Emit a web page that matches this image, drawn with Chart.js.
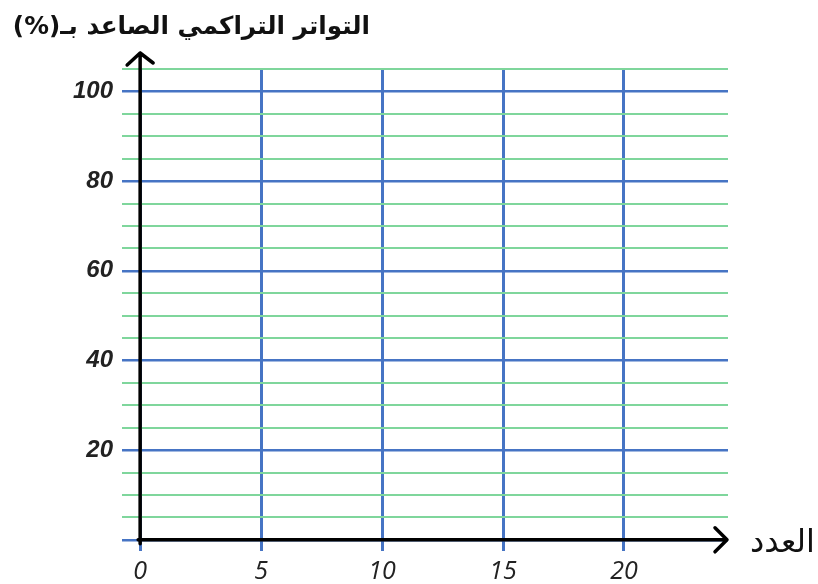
<!DOCTYPE html>
<html lang="ar">
<head>
<meta charset="utf-8">
<title>التواتر التراكمي الصاعد</title>
<script src="https://cdn.jsdelivr.net/npm/chart.js@4.4.1/dist/chart.umd.min.js"></script>
<style>
  html, body { margin: 0; padding: 0; background: #fff; }
  #wrap { width: 818px; height: 584px; }
</style>
</head>
<body>
<div id="wrap"><canvas id="chart" width="818" height="584"></canvas></div>
<script>
// axis texts
const yTitle = 'التواتر التراكمي الصاعد بـ(%)';
const xTitle = 'العدد';

// x ticks (number) and y ticks (cumulative %)
const xTicks = [0, 5, 10, 15, 20];
const xRange = [-0.75, 24.3];
const yTicks = [0, 5, 10, 15, 20, 25, 30, 35, 40, 45, 50, 55, 60, 65, 70, 75, 80, 85, 90, 95, 100, 105];
const yLabelled = [20, 40, 60, 80, 100];
const yRange = [-2.5, 105];

const blue = '#4674c4';
const green = '#7fd69c';

// black axes with arrow heads, drawn on top of the grid
const axesArrows = {
    id: 'axesArrows',
    afterDraw(chart) {
        const ctx = chart.ctx;
        const x = chart.scales.x;
        const y = chart.scales.y;
        const x0 = x.getPixelForValue(0);
        const y0 = y.getPixelForValue(0);
        ctx.save();
        ctx.strokeStyle = '#000';
        ctx.lineWidth = 3.5;
        ctx.lineCap = 'round';
        ctx.lineJoin = 'round';

        // vertical axis
        const topY = 53;
        ctx.beginPath();
        ctx.moveTo(x0, y0 + 4);
        ctx.lineTo(x0, topY);
        ctx.moveTo(x0 - 13, topY + 12);
        ctx.lineTo(x0, topY);
        ctx.lineTo(x0 + 13, topY + 10);
        ctx.stroke();

        // horizontal axis
        const tipX = 727;
        ctx.beginPath();
        ctx.moveTo(x0 - 2, y0);
        ctx.lineTo(tipX, y0);
        ctx.moveTo(tipX - 12, y0 - 12);
        ctx.lineTo(tipX, y0);
        ctx.lineTo(tipX - 12, y0 + 12);
        ctx.stroke();

        // arabic axis titles
        ctx.fillStyle = '#111';
        ctx.direction = 'rtl';
        ctx.textAlign = 'right';
        ctx.textBaseline = 'alphabetic';
        ctx.font = 'bold 24.7px "DejaVu Sans"';
        ctx.fillText(yTitle, 370, 34);
        ctx.font = '32px "DejaVu Sans"';
        ctx.fillText(xTitle, 815, 552);
        ctx.restore();
    }
};

const ctx = document.getElementById('chart').getContext('2d');
new Chart(ctx, {
    type: 'scatter',
    data: { datasets: [{ data: [] }] },
    options: {
        responsive: false,
        animation: false,
        layout: { padding: { top: 69, right: 90, left: 0, bottom: 0 } },
        plugins: { legend: { display: false }, tooltip: { enabled: false } },
        scales: {
            x: {
                type: 'linear',
                min: xRange[0],
                max: xRange[1],
                z: 1,
                afterBuildTicks: scale => { scale.ticks = xTicks.map(v => ({ value: v })); },
                afterFit: scale => { scale.height = 33; },
                border: { display: false },
                grid: { color: blue, lineWidth: 3, drawTicks: false },
                ticks: {
                    color: '#222',
                    padding: 6,
                    font: { family: '"Open Sans"', style: 'italic', size: 25 }
                }
            },
            y: {
                type: 'linear',
                min: yRange[0],
                max: yRange[1],
                afterBuildTicks: scale => { scale.ticks = yTicks.map(v => ({ value: v })); },
                afterFit: scale => { scale.width = 122; },
                border: { display: false },
                grid: {
                    drawTicks: false,
                    color: c => (c.tick && c.tick.value % 20 === 0) ? blue : green,
                    lineWidth: c => (c.tick && c.tick.value % 20 === 0) ? 2.5 : 2
                },
                ticks: {
                    color: '#222',
                    padding: 9,
                    autoSkip: false,
                    font: { family: '"Liberation Sans"', style: 'italic', weight: 'bold', size: 24 },
                    callback: v => yLabelled.includes(v) ? String(v) : ''
                }
            }
        }
    },
    plugins: [axesArrows]
});
</script>
</body>
</html>
